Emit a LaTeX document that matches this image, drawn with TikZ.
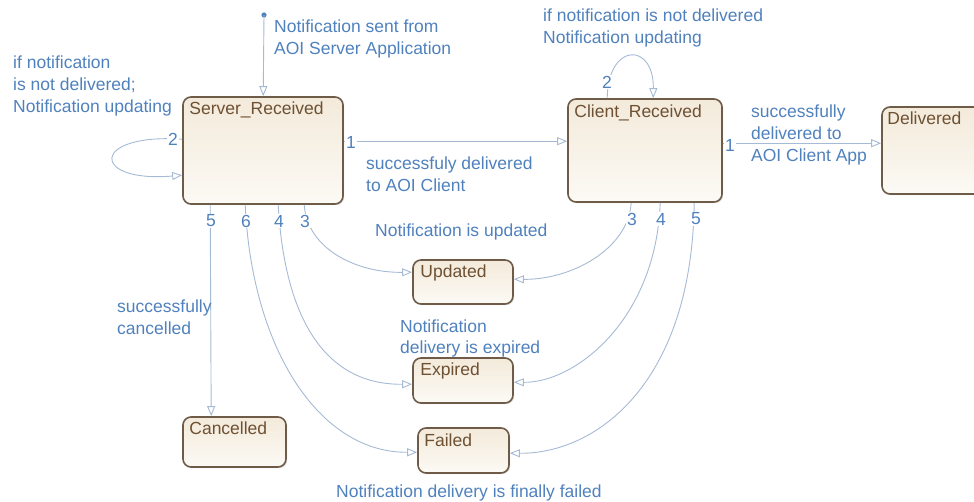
\documentclass[tikz,border=0pt]{standalone}
\usepackage{fontspec}
\setmainfont{Liberation Sans}
\usetikzlibrary{arrows.meta,calc,shadows}
\definecolor{lblue}{RGB}{79,129,189}
\definecolor{conn}{RGB}{165,186,212}
\definecolor{bordc}{RGB}{110,92,72}
\definecolor{titlec}{RGB}{110,80,50}
\definecolor{ftop}{RGB}{243,234,218}
\definecolor{fbot}{RGB}{252,250,245}
\tikzset{
  statebox/.style={draw=bordc, line width=1.6pt, rounded corners=8pt, top color=ftop, bottom color=fbot,
    drop shadow={shadow xshift=1.2pt, shadow yshift=-1.2pt, opacity=0.25}, inner sep=0pt},
  titletext/.style={text=titlec, inner sep=0pt, anchor=base west, font=\fontsize{17.5}{22}\selectfont},
  lbl/.style={text=lblue, inner sep=0pt, anchor=base west, align=left, font=\fontsize{17.5}{22}\selectfont},
  num/.style={text=lblue, fill=white, inner sep=0.8pt, font=\fontsize{17.5}{22}\selectfont},
  tr/.style={draw=conn, line width=0.9pt, -{Triangle[open, length=10pt, width=8pt, fill=white]}},
}
\begin{document}
\begin{tikzpicture}[x=1pt, y=-1pt]
\useasboundingbox (0,0) rectangle (974,502);
% states
\node[statebox, minimum width=160pt, minimum height=107pt] (sr) at (263,150.5) {};
\node[statebox, minimum width=154pt, minimum height=103pt] (cr) at (645,150.5) {};
\node[statebox, minimum width=120pt, minimum height=87pt] (dl) at (942,150.5) {};
\node[statebox, minimum width=100pt, minimum height=44pt] (up) at (463,282) {};
\node[statebox, minimum width=100pt, minimum height=45pt] (ex) at (463,380.5) {};
\node[statebox, minimum width=91pt, minimum height=45pt] (fa) at (463.5,450.5) {};
\node[statebox, minimum width=103pt, minimum height=50pt] (ca) at (234.5,442) {};
% titles
\node[titletext] (srT) at ($(sr.north west)+(7,18)$) {Server\_Received};
\node[titletext] (crT) at ($(cr.north west)+(7,19)$) {Client\_Received};
\node[titletext] (dlT) at ($(dl.north west)+(6,18)$) {Delivered};
\node[titletext] (upT) at ($(up.north west)+(8,18)$) {Updated};
\node[titletext] (exT) at ($(ex.north west)+(8,18)$) {Expired};
\node[titletext] (faT) at ($(fa.north west)+(7,19)$) {Failed};
\node[titletext] (caT) at ($(ca.north west)+(7,18)$) {Cancelled};
% connector end points
\coordinate (init) at (264,15);
\coordinate (srTop) at ($(sr.north west)+(81,0)$);
\coordinate (sr1) at ($(sr.north east)+(0,45)$);
\coordinate (cr1in) at ($(cr.north west)+(0,43)$);
\coordinate (sr2a) at ($(sr.north west)+(0,43)$);
\coordinate (sr2b) at ($(sr.north west)+(0,79)$);
\coordinate (sr3) at ($(sr.south west)+(122,0)$);
\coordinate (sr4) at ($(sr.south west)+(96,0)$);
\coordinate (sr6) at ($(sr.south west)+(63,0)$);
\coordinate (sr5) at ($(sr.south west)+(28,0)$);
\coordinate (cr2a) at ($(cr.north west)+(40,0)$);
\coordinate (cr2b) at ($(cr.north west)+(86,0)$);
\coordinate (cr1) at ($(cr.north east)+(0,45)$);
\coordinate (dlin) at ($(dl.north west)+(0,37)$);
\coordinate (cr3) at ($(cr.south west)+(64,0)$);
\coordinate (cr4) at ($(cr.south west)+(93,0)$);
\coordinate (cr5) at ($(cr.south west)+(127,0)$);
\coordinate (upL) at ($(up.north west)+(0,13)$);
\coordinate (upR) at ($(up.north east)+(0,20)$);
\coordinate (exL) at ($(ex.north west)+(0,27)$);
\coordinate (exR) at ($(ex.north east)+(0,25)$);
\coordinate (faL) at ($(fa.north west)+(0,25)$);
\coordinate (faR) at ($(fa.north east)+(0,26)$);
\coordinate (caTop) at ($(ca.north west)+(29,0)$);
% connectors
\fill[lblue] (init) circle (2.6pt);
\draw[tr] (init) -- (srTop);
\draw[tr] (sr1) -- (cr1in);
\draw[tr] (sr2a) .. controls (90,133) and (90,183) .. (sr2b);
\draw[tr] (sr3) .. controls (307,248) and (355,273) .. (upL);
\draw[tr] (sr4) .. controls (284,310) and (320,385) .. (exL);
\draw[tr] (sr6) .. controls (252,350) and (320,453) .. (faL);
\draw[tr] (sr5) -- (caTop);
\draw[tr] (cr2a) .. controls (608,42) and (654,42) .. (cr2b);
\draw[tr] (cr1) -- (dlin);
\draw[tr] (cr3) .. controls (628,250) and (570,280) .. (upR);
\draw[tr] (cr4) .. controls (656,320) and (575,383) .. (exR);
\draw[tr] (cr5) .. controls (692,385) and (595,454) .. (faR);
% transition numbers
\node[num] (n_sr1) at (351,142) {1};
\node[num] (n_sr2) at (173,139) {2};
\node[num] (n_sr5) at (211,221) {5};
\node[num] (n_sr6) at (246,221) {6};
\node[num] (n_sr4) at (279,221) {4};
\node[num] (n_sr3) at (305,221) {3};
\node[num] (n_cr2) at (607,82) {2};
\node[num] (n_cr1) at (730,145) {1};
\node[num] (n_cr3) at (632,219) {3};
\node[num] (n_cr4) at (661,219) {4};
\node[num] (n_cr5) at (696,219) {5};
% labels (base = baseline of the last line)
\node[lbl] (l_init) at (274,55) {Notification sent from\\AOI Server Application};
\node[lbl] (l_sr2) at (13,113) {if notification\\is not delivered;\\Notification updating};
\node[lbl] (l_cr2) at (543,44) {if notification is not delivered\\Notification updating};
\node[lbl] (l_sr1) at (366,192) {successfuly delivered\\to AOI Client};
\node[lbl] (l_cr1) at (751,162) {successfully\\delivered to\\AOI Client App};
\node[lbl] (l_up) at (375,237) {Notification is updated};
\node[lbl] (l_ca) at (117,335) {successfully\\cancelled};
\node[lbl, font=\fontsize{17.5}{21}\selectfont] (l_ex) at (400,354) {Notification\\delivery is expired};
\node[lbl] (l_fa) at (336,497) {Notification delivery is finally failed};
\end{tikzpicture}
\end{document}
